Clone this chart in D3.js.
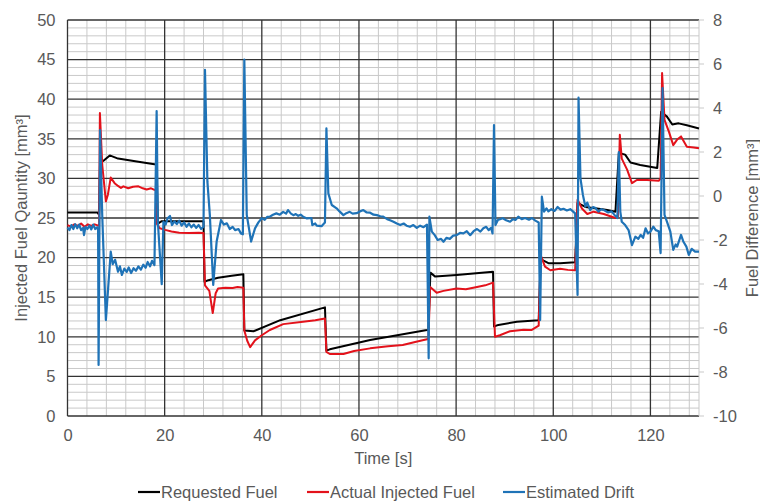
<!DOCTYPE html>
<html>
<head>
<meta charset="utf-8">
<script src="https://cdn.jsdelivr.net/npm/d3@7"></script>
<style>
  body { margin: 0; background: #fff; }
  svg text { font-family: "Liberation Sans", Arial, sans-serif; fill: #595959; }
</style>
</head>
<body>
<svg id="chart" width="760" height="503"></svg>
<script>
// [time s, mm3]
const requestedFuel = [
  [0,25.7],[6.2,25.7],[6.3,25.55],[6.5,25.55],[6.7,32.0],[7.35,32.2],[8.7,32.9],[10.4,32.5],[14.6,32.1],
  [17.9,31.8],[18.35,31.7],[18.6,24.3],[19.4,24.6],[28.0,24.6],[28.2,16.95],[29.0,17.15],[31.0,17.45],
  [33.8,17.7],[36.2,17.9],[36.4,10.8],[38.3,10.7],[43.8,12.1],[53.0,13.72],[53.3,8.25],[54.0,8.42],
  [62.3,9.6],[74.0,10.86],[74.3,10.9],[74.7,18.1],[75.7,17.6],[80.1,17.8],[87.6,18.2],[87.8,11.3],
  [88.7,11.5],[92.5,11.9],[97.0,12.1],[97.4,19.8],[99.0,19.3],[101.4,19.3],[104.5,19.4],[105.0,26.9],
  [106.6,26.4],[109.0,26.2],[111.1,26.0],[112.8,25.8],[113.5,33.2],[114.8,33.0],[115.9,32.0],[117.9,31.7],
  [121.4,31.3],[122.2,38.4],[123.4,37.8],[124.5,36.8],[125.8,36.95],[127.5,36.7],[130,36.3]
];

const actualFuel = [
  [0,24.1],[0.7,23.9],[1.4,24.2],[2.1,24.0],[2.8,24.3],[3.5,23.9],[4.2,24.2],[4.9,24.0],[5.6,24.2],[6.5,24.0],
  [6.67,38.25],[7.15,31.7],[7.9,27.1],[8.3,27.9],[8.9,30.1],[9.7,29.4],[10.4,29.05],[11.0,28.8],[11.5,29.0],
  [12.5,28.75],[13.5,28.95],[14.6,29.0],[15.5,28.75],[16.3,28.6],[17.2,28.75],[17.9,28.55],[18.2,28.5],
  [18.35,24.3],[19.0,23.7],[20.1,23.5],[21.4,23.3],[23,23.15],[25,23.1],[27,23.15],[28.0,23.1],
  [28.3,16.5],[29.2,15.8],[29.9,13.0],[30.5,15.5],[31.0,16.1],[32.5,16.2],[34,16.15],[35,16.3],[36.2,16.2],
  [36.4,10.8],[37.0,9.5],[37.6,8.7],[38.6,9.55],[40.0,10.2],[41.65,10.86],[44.4,11.6],[48.5,11.9],
  [51,12.1],[53.0,12.3],[53.3,8.1],[54.0,7.83],[56.8,7.83],[59,8.2],[62.3,8.54],[66,8.8],[69,8.97],
  [72,9.4],[74.0,9.68],[74.3,9.7],[74.65,16.3],[76.0,15.57],[77.4,15.8],[80.1,16.1],[82,16.0],
  [84.3,16.3],[86,16.5],[87.6,16.84],[88.0,10.0],[89.0,10.2],[91.1,10.7],[93.9,10.9],[95.5,10.85],
  [97.0,11.4],[97.4,20.3],[98.3,18.86],[99.4,18.4],[101.4,18.6],[103,18.45],[104.5,18.4],[105.0,27.3],
  [105.9,26.2],[107.0,25.5],[108.3,25.8],[110.4,25.5],[112.8,25.0],[113.3,25.2],[113.7,35.5],
  [114.1,32.5],[115.2,31.1],[116.2,29.4],[117.2,29.8],[119.3,29.8],[121.7,29.7],[122.1,30],[122.4,43.3],
  [122.9,37.4],[123.8,35.9],[124.7,34.2],[125.5,34.9],[126.3,35.3],[127.5,34.0],[128.9,33.9],[130,33.8]
];

const estimatedDrift = [
  [0,-1.44],[0.4,-1.55],[0.8,-1.32],[1.2,-1.5],[1.6,-1.28],[2.0,-1.47],[2.4,-1.3],[2.8,-1.55],[3.2,-1.45],
  [3.4,-1.78],[3.7,-1.4],[4.1,-1.5],[4.5,-1.35],[4.9,-1.52],[5.3,-1.3],[5.7,-1.5],[6.1,-1.42],[6.3,-1.55],
  [6.4,-7.68],[6.7,3.0],[7.15,-0.86],[7.9,-5.64],[8.9,-2.53],[9.3,-3.1],[9.8,-2.9],[10.4,-3.44],[10.8,-3.2],
  [11.2,-3.59],[11.7,-3.3],[12.2,-3.45],[12.6,-3.25],[13.1,-3.5],[13.6,-3.28],[14.1,-3.4],[14.6,-3.2],
  [15.1,-3.35],[15.6,-3.12],[16.1,-3.26],[16.5,-3.0],[17.0,-3.2],[17.4,-2.95],[17.9,-3.14],
  [18.35,3.86],[18.6,-1.17],[19.4,-4.01],[19.75,-1.17],[20.2,-1.3],[20.6,-1.01],[21.1,-0.91],[21.5,-1.32],
  [22.0,-1.15],[22.5,-1.28],[23.0,-1.12],[23.5,-1.35],[24.0,-1.2],[24.5,-1.4],[25.0,-1.25],[25.5,-1.42],
  [26.0,-1.3],[26.5,-1.45],[27.0,-1.32],[27.5,-1.5],[28.0,-1.4],
  [28.3,5.73],[28.8,0.65],[29.3,-0.86],[30.0,-4.04],[30.7,-2.07],[31.6,-1.09],[32.2,-1.3],[32.8,-1.24],
  [33.4,-1.5],[34.0,-1.4],[34.5,-1.55],[35.2,-1.5],[35.7,-1.7],[36.1,-1.74],
  [36.4,6.2],[36.9,-0.86],[37.8,-2.07],[38.6,-1.47],[39.3,-1.2],[40.0,-1.01],[40.6,-1.08],[41.1,-0.95],
  [41.65,-0.94],[42.3,-0.85],[43.0,-0.79],[43.7,-0.85],[44.4,-0.72],[45.0,-0.8],[45.4,-0.64],[46.0,-0.8],
  [46.5,-0.87],[47.0,-0.82],[47.5,-0.9],[48.0,-0.85],[48.5,-0.94],[49.3,-1.02],[50.2,-1.0],[50.4,-1.32],
  [51.0,-1.25],[51.3,-1.35],[52.3,-1.37],[52.8,-1.25],[53.0,-1.2],
  [53.3,3.07],[53.7,0.12],[54.4,-0.41],[55.4,-0.56],[56.0,-0.7],[56.8,-0.87],[57.4,-0.78],[58.1,-0.72],
  [58.7,-0.8],[59.5,-0.78],[60.2,-0.7],[60.9,-0.64],[61.6,-0.75],[62.3,-0.76],[63.0,-0.85],[63.7,-0.87],
  [64.4,-0.92],[65.0,-0.94],[65.8,-1.05],[66.4,-1.1],[67.1,-1.17],[67.8,-1.25],[68.5,-1.32],[69.2,-1.25],
  [69.8,-1.35],[70.5,-1.4],[71.2,-1.32],[71.9,-1.45],[72.6,-1.35],[73.3,-1.42],[74.0,-1.3],
  [74.35,-7.38],[74.5,-0.94],[75.0,-1.62],[75.6,-1.78],[76.2,-2.0],[76.9,-1.95],[77.4,-2.08],[78.0,-1.9],
  [78.7,-1.95],[79.4,-1.8],[80.1,-1.78],[80.8,-1.68],[81.5,-1.7],[82.2,-1.6],[82.9,-1.78],[83.6,-1.6],
  [84.3,-1.5],[85.0,-1.62],[85.6,-1.47],[86.2,-1.4],[86.7,-1.55],[87.2,-1.45],[87.5,-1.7],
  [87.8,3.22],[88.1,-1.32],[88.6,-1.09],[89.6,-1.01],[90.3,-1.1],[91.1,-1.17],[91.7,-1.05],[92.2,-1.09],
  [92.8,-0.94],[93.5,-1.05],[94.2,-1.0],[95.0,-1.08],[95.6,-1.0],[96.3,-1.12],[97.0,-1.2],
  [97.3,-5.64],[97.65,-0.03],[98.1,-0.71],[98.6,-0.56],[99.0,-0.7],[99.6,-0.6],[100.3,-0.68],[100.9,-0.5],
  [101.5,-0.62],[102.1,-0.58],[102.8,-0.66],[103.5,-0.6],[104.1,-0.71],[104.5,-0.79],
  [105.0,-4.5],[105.2,4.47],[105.6,0.8],[106.1,0.05],[106.6,-0.48],[107.0,-0.3],[107.6,-0.64],[108.2,-0.5],
  [108.7,-0.55],[109.3,-0.71],[109.9,-0.6],[110.5,-0.65],[111.3,-0.75],[112.0,-0.7],[112.6,-0.86],
  [113.2,-1.0],[113.5,2.0],[113.8,-0.71],[114.1,-1.17],[114.8,-1.32],[115.5,-1.55],[116.2,-2.23],
  [116.9,-1.85],[117.5,-1.95],[118.0,-1.77],[118.5,-1.9],[119.0,-1.47],[119.5,-1.7],[120.0,-1.62],
  [120.6,-1.39],[121.1,-1.55],[121.7,-1.6],[122.1,-2.6],
  [122.5,4.9],[122.9,-0.86],[123.4,-1.17],[124.1,-1.62],[124.7,-2.45],[125.2,-2.2],[125.5,-2.3],
  [126.3,-1.77],[126.8,-2.08],[127.4,-2.3],[127.9,-2.68],[128.5,-2.4],[129.2,-2.53],[130,-2.53]
];

const xTicks = [0, 20, 40, 60, 80, 100, 120];
const leftTicks = [0, 5, 10, 15, 20, 25, 30, 35, 40, 45, 50];
const rightTicks = [-10, -8, -6, -4, -2, 0, 2, 4, 6, 8];
const legendNames = ['Requested Fuel', 'Actual Injected Fuel', 'Estimated Drift'];
const colors = ['#000000', '#e3121b', '#1f73b7'];

const margin = {top: 20, right: 61, bottom: 87, left: 67.5};
const width = 760;
const height = 503;
const bottomY = height - margin.bottom;

const x = d3.scaleLinear().domain([0, 130]).range([margin.left, width - margin.right]);
const yL = d3.scaleLinear().domain([0, 50]).range([bottomY, margin.top]);
const yR = d3.scaleLinear().domain([-10, 8]).range([bottomY, margin.top]);

const svg = d3.select('#chart');

// minor grid
const grid = svg.append('g');
grid.selectAll('line.hmin')
  .data(d3.range(0, 51, 1).filter(d => d % 5 !== 0))
  .join('line')
  .attr('x1', x(0)).attr('x2', x(130))
  .attr('y1', d => yL(d)).attr('y2', d => yL(d))
  .attr('stroke', '#c9c9c9').attr('stroke-width', 1);
grid.selectAll('line.vmin')
  .data(d3.range(4, 130, 4).filter(d => d % 20 !== 0))
  .join('line')
  .attr('y1', yL(0)).attr('y2', yL(50))
  .attr('x1', d => x(d)).attr('x2', d => x(d))
  .attr('stroke', '#c9c9c9').attr('stroke-width', 1);

// right edge + right tick marks
svg.append('line')
  .attr('x1', x(130)).attr('x2', x(130)).attr('y1', yL(0)).attr('y2', yL(50))
  .attr('stroke', '#c9c9c9').attr('stroke-width', 1);
svg.append('g').selectAll('line')
  .data(rightTicks)
  .join('line')
  .attr('x1', x(130)).attr('x2', x(130) + 5)
  .attr('y1', d => yR(d)).attr('y2', d => yR(d))
  .attr('stroke', '#c9c9c9');

// major grid
grid.selectAll('line.hmaj')
  .data(leftTicks)
  .join('line')
  .attr('x1', x(0)).attr('x2', x(130))
  .attr('y1', d => yL(d)).attr('y2', d => yL(d))
  .attr('stroke', '#333').attr('stroke-width', 1.3);
grid.selectAll('line.vmaj')
  .data(xTicks)
  .join('line')
  .attr('y1', yL(0)).attr('y2', yL(50))
  .attr('x1', d => x(d)).attr('x2', d => x(d))
  .attr('stroke', '#333').attr('stroke-width', 1.3);

// series
const lineL = d3.line().x(d => x(d[0])).y(d => yL(d[1]));
const lineR = d3.line().x(d => x(d[0])).y(d => yR(d[1]));

svg.append('path').datum(requestedFuel)
  .attr('d', lineL).attr('fill', 'none')
  .attr('stroke', colors[0]).attr('stroke-width', 2).attr('stroke-linejoin', 'round');
svg.append('path').datum(actualFuel)
  .attr('d', lineL).attr('fill', 'none')
  .attr('stroke', colors[1]).attr('stroke-width', 2).attr('stroke-linejoin', 'round');
svg.append('path').datum(estimatedDrift)
  .attr('d', lineR).attr('fill', 'none')
  .attr('stroke', colors[2]).attr('stroke-width', 2.2).attr('stroke-linejoin', 'round');

// axes (labels only), plain hyphen for negatives
const fs = '16.5px';
const plain = d => String(d);
const xAxis = g => g
  .attr('transform', `translate(0, ${bottomY})`)
  .call(d3.axisBottom(x).tickValues(xTicks).tickFormat(plain).tickSize(0).tickPadding(13))
  .call(g => g.select('.domain').remove());
const yAxisL = g => g
  .attr('transform', `translate(${margin.left - 12}, 0)`)
  .call(d3.axisLeft(yL).tickValues(leftTicks).tickFormat(plain).tickSize(0).tickPadding(0))
  .call(g => g.select('.domain').remove());
const yAxisR = g => g
  .attr('transform', `translate(${x(130) + 14}, 0)`)
  .call(d3.axisRight(yR).tickValues(rightTicks).tickFormat(plain).tickSize(0).tickPadding(0))
  .call(g => g.select('.domain').remove());

svg.append('g').call(xAxis);
svg.append('g').call(yAxisL);
svg.append('g').call(yAxisR);
svg.selectAll('.tick text')
  .attr('font-family', '"Liberation Sans", Arial, sans-serif')
  .attr('font-size', fs).attr('fill', '#595959');

// titles
svg.append('text')
  .attr('x', (x(0) + x(130)) / 2).attr('y', 464)
  .attr('text-anchor', 'middle').attr('font-size', fs)
  .text('Time [s]');
svg.append('text')
  .attr('transform', `translate(27, ${(yL(0) + yL(50)) / 2}) rotate(-90)`)
  .attr('text-anchor', 'middle').attr('font-size', fs)
  .text('Injected Fuel Qauntity [mm³]');
svg.append('text')
  .attr('transform', `translate(758, ${(yL(0) + yL(50)) / 2}) rotate(-90)`)
  .attr('text-anchor', 'middle').attr('font-size', fs)
  .text('Fuel Difference [mm³]');

// legend
const legendX = [138, 307, 503];
const legend = svg.append('g').selectAll('g')
  .data(legendNames)
  .join('g')
  .attr('transform', (d, i) => `translate(${legendX[i]}, 492)`);
legend.append('line')
  .attr('x1', 0).attr('x2', 22)
  .attr('stroke', (d, i) => colors[i]).attr('stroke-width', 2.2);
legend.append('text')
  .attr('x', 23).attr('y', 6).attr('font-size', fs)
  .text(d => d);
</script>
</body>
</html>
